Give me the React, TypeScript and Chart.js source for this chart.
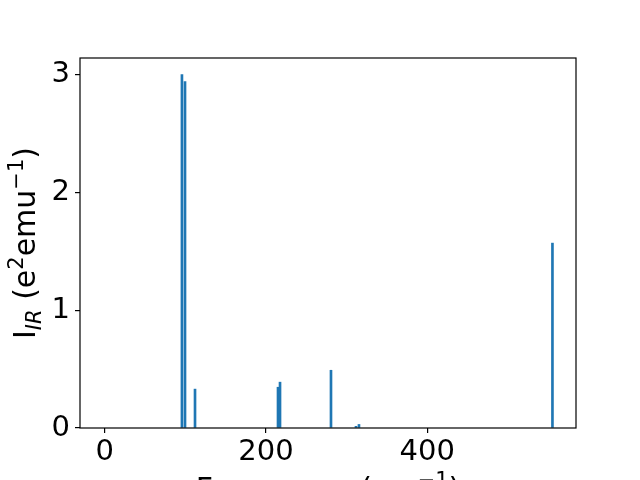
import React, { useEffect, useRef } from "react";
import { Chart, registerables } from "chart.js";

Chart.register(...registerables);

// Mode frequencies (cm^-1) and IR intensities (e^2 emu^-1)
const frequencies = [95.8, 99.6, 112.0, 214.9, 217.4, 280.6, 311.6, 315.3, 555.2];
const intensities = [3.0, 2.94, 0.33, 0.346, 0.389, 0.49, 0.014, 0.03, 1.569];
const xTicks = [0, 200, 400];
const yTicks = [0, 1, 2, 3];
const xRange = [-30.6, 584.4];
const yRange = [0, 3.14];

type Run = { text: string; size: number; italic?: boolean; dy: number };

const FAMILY = '"DejaVu Sans", sans-serif';
const fontOf = (r: Run) => `${r.italic ? "italic " : ""}${r.size}px ${FAMILY}`;

function drawRuns(ctx: CanvasRenderingContext2D, runs: Run[], cx: number, baseY: number) {
  let total = 0;
  const widths = runs.map((r) => {
    ctx.font = fontOf(r);
    const w = ctx.measureText(r.text).width;
    total += w;
    return w;
  });
  let x = cx - total / 2;
  ctx.textAlign = "left";
  ctx.textBaseline = "alphabetic";
  runs.forEach((r, i) => {
    ctx.font = fontOf(r);
    ctx.fillText(r.text, x, baseY + r.dy);
    x += widths[i];
  });
}

const BIG = 30;
const SMALL = 21;
const yLabelRuns: Run[] = [
  { text: "I", size: BIG, dy: 0 },
  { text: "IR", size: SMALL, italic: true, dy: 6 },
  { text: " (e", size: BIG, dy: 0 },
  { text: "2", size: SMALL, dy: -12 },
  { text: "emu", size: BIG, dy: 0 },
  { text: "\u22121", size: SMALL, dy: -12 },
  { text: ")", size: BIG, dy: 0 },
];
const xLabelRuns: Run[] = [
  { text: "Frequency (cm", size: BIG, dy: 0 },
  { text: "\u22121", size: SMALL, dy: -12 },
  { text: ")", size: BIG, dy: 0 },
];

const framePlugin = {
  id: "frameAndLabels",
  afterDraw(chart: any) {
    const ctx: CanvasRenderingContext2D = chart.ctx;
    const a = chart.chartArea;
    ctx.save();
    ctx.strokeStyle = "#000";
    ctx.lineWidth = 1.2;
    ctx.strokeRect(a.left, a.top, a.right - a.left, a.bottom - a.top);
    ctx.fillStyle = "#000";
    // x label
    drawRuns(ctx, xLabelRuns, (a.left + a.right) / 2, 499);
    // y label (rotated)
    ctx.translate(35, (a.top + a.bottom) / 2);
    ctx.rotate(-Math.PI / 2);
    drawRuns(ctx, yLabelRuns, 0, 0);
    ctx.restore();
  },
};

export default function App() {
  const ref = useRef<HTMLCanvasElement | null>(null);
  useEffect(() => {
    if (!ref.current) return;
    const chart = new Chart(ref.current, {
      type: "bar",
      data: {
        datasets: [
          {
            data: frequencies.map((f, i) => ({ x: f, y: intensities[i] })),
            backgroundColor: "#1f77b4",
            borderWidth: 0,
            barThickness: 2,
            grouped: false,
          } as any,
        ],
      },
      options: {
        animation: false,
        responsive: false,
        devicePixelRatio: 1,
        layout: { padding: { left: 0, top: 58, right: 64, bottom: 0 } },
        plugins: { legend: { display: false }, tooltip: { enabled: false } },
        scales: {
          x: {
            type: "linear",
            offset: false,
            min: xRange[0],
            max: xRange[1],
            afterBuildTicks: (s: any) => {
              s.ticks = xTicks.map((v) => ({ value: v }));
            },
            afterFit: (s: any) => {
              s.height = 52;
            },
            border: { display: false },
            grid: { display: true, offset: false, drawOnChartArea: false, drawTicks: true, tickLength: 5, color: "#000", lineWidth: 1.2 },
            ticks: {
              color: "#000",
              font: { family: FAMILY, size: 29 },
              padding: 2,
              maxRotation: 0,
              autoSkip: false,
              callback: (v: any) => String(v),
            },
          },
          y: {
            type: "linear",
            min: yRange[0],
            max: yRange[1],
            afterBuildTicks: (s: any) => {
              s.ticks = yTicks.map((v) => ({ value: v }));
            },
            afterFit: (s: any) => {
              s.width = 80;
            },
            border: { display: false },
            grid: { display: true, drawOnChartArea: false, drawTicks: true, tickLength: 5, color: "#000", lineWidth: 1.2 },
            ticks: {
              color: "#000",
              font: { family: FAMILY, size: 29 },
              padding: 5,
              autoSkip: false,
              callback: (v: any) => String(v),
            },
          },
        },
      } as any,
      plugins: [framePlugin],
    });
    return () => chart.destroy();
  }, []);
  return (
    <div style={{ position: "absolute", left: 0, top: 0, width: 640, height: 480, background: "#fff" }}>
      <canvas ref={ref} width={640} height={480} style={{ width: 640, height: 480, display: "block" }} />
    </div>
  );
}
